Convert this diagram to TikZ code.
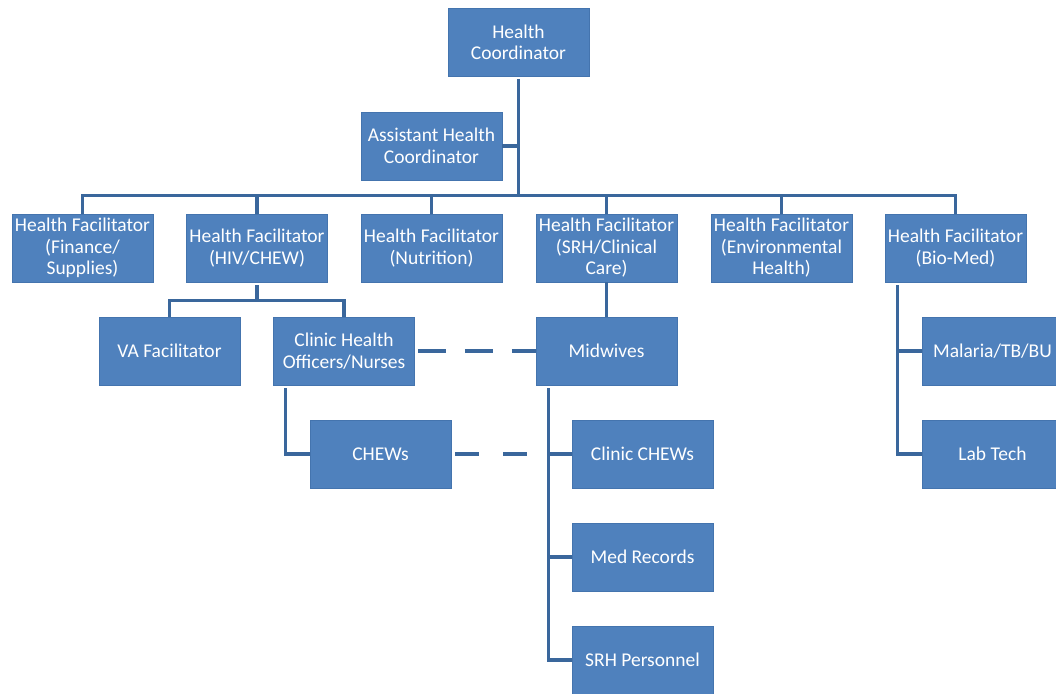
\documentclass[tikz,border=0pt]{standalone}
\usepackage{fontspec}
\setmainfont{Carlito}
\definecolor{boxfill}{HTML}{4F81BD}
\definecolor{boxedge}{HTML}{4474AE}
\definecolor{linec}{HTML}{3A679C}
\begin{document}
\begin{tikzpicture}[x=1pt,y=-1pt,
  box/.style={draw=boxedge,line width=0.8pt,fill=boxfill,text=white,minimum width=141pt,minimum height=68pt,
    inner sep=1pt,align=center,font=\fontsize{19.5}{21.5}\selectfont},
  conn/.style={draw=linec,line width=3.2pt},
  dconn/.style={conn}]
\useasboundingbox (0,0) rectangle (1056,693);
\fill[white] (0,0) rectangle (1056,693);
% level 0/1
\node[box] (hc) at (518.5,42.5) {Health\\Coordinator};
\node[box] (ahc) at (431.5,146) {Assistant Health\\Coordinator};
% level 2
\node[box] (f1) at (82.5,248) {Health Facilitator\\(Finance/\\Supplies)};
\node[box] (f2) at (257,248) {Health Facilitator\\(HIV/CHEW)};
\node[box] (f3) at (431.5,248) {Health Facilitator\\(Nutrition)};
\node[box] (f4) at (606.5,248) {Health Facilitator\\(SRH/Clinical\\Care)};
\node[box] (f5) at (781.5,248) {Health Facilitator\\(Environmental\\Health)};
\node[box] (f6) at (955.5,248) {Health Facilitator\\(Bio-Med)};
% level 3
\node[box] (va) at (169.5,351) {VA Facilitator};
\node[box] (chon) at (344,351) {Clinic Health\\Officers/Nurses};
\node[box] (mid) at (606.5,351) {Midwives};
\node[box] (mal) at (992.5,351) {Malaria/TB/BU};
% level 4+
\node[box] (chews) at (380.5,454) {CHEWs};
\node[box] (cchews) at (642.5,454) {Clinic CHEWs};
\node[box] (lab) at (992.5,454) {Lab Tech};
\node[box] (med) at (642.5,557) {Med Records};
\node[box] (srh) at (642.5,660) {SRH Personnel};
% connectors
\coordinate (bus) at ([yshift=18pt]f1.north);
\draw[conn] (f1.north) |- (bus) -| (f6.north);
\foreach \n in {f2,f3,f4,f5} \draw[conn] (\n.north) -- (\n.north |- bus);
\draw[conn] ([yshift=-2pt]hc.south) -- (hc.south |- bus);
\draw[conn] (ahc.east) -- (ahc.east -| hc.south);
\coordinate (hb) at ([yshift=-18pt]f2.south);
\draw[conn] ([yshift=-3pt]f2.south) -- (hb);
\draw[conn] (va.north) |- (hb) -| (chon.north);
\draw[conn] (f4.south) -- (mid.north);
\coordinate (cv) at ([xshift=12pt,yshift=-3pt]chon.south west);
\draw[conn] (cv) |- (chews.west);
\coordinate (mv) at ([xshift=13pt,yshift=-3pt]mid.south west);
\draw[conn] (mv) |- (srh.west);
\draw[conn] (cchews.west) -- (cchews.west -| mv);
\draw[conn] (med.west) -- (med.west -| mv);
\coordinate (bv) at ([xshift=13pt,yshift=-3pt]f6.south west);
\draw[conn] (bv) |- (lab.west);
\draw[conn] (mal.west) -- (mal.west -| bv);
\draw[dconn,dash pattern=on 28pt off 19pt,dash phase=44pt] (chon.east) -- (mid.west);
\draw[dconn,dash pattern=on 24pt off 24pt,dash phase=44pt] (chews.east) -- (chews.east -| mv);
\end{tikzpicture}
\end{document}
